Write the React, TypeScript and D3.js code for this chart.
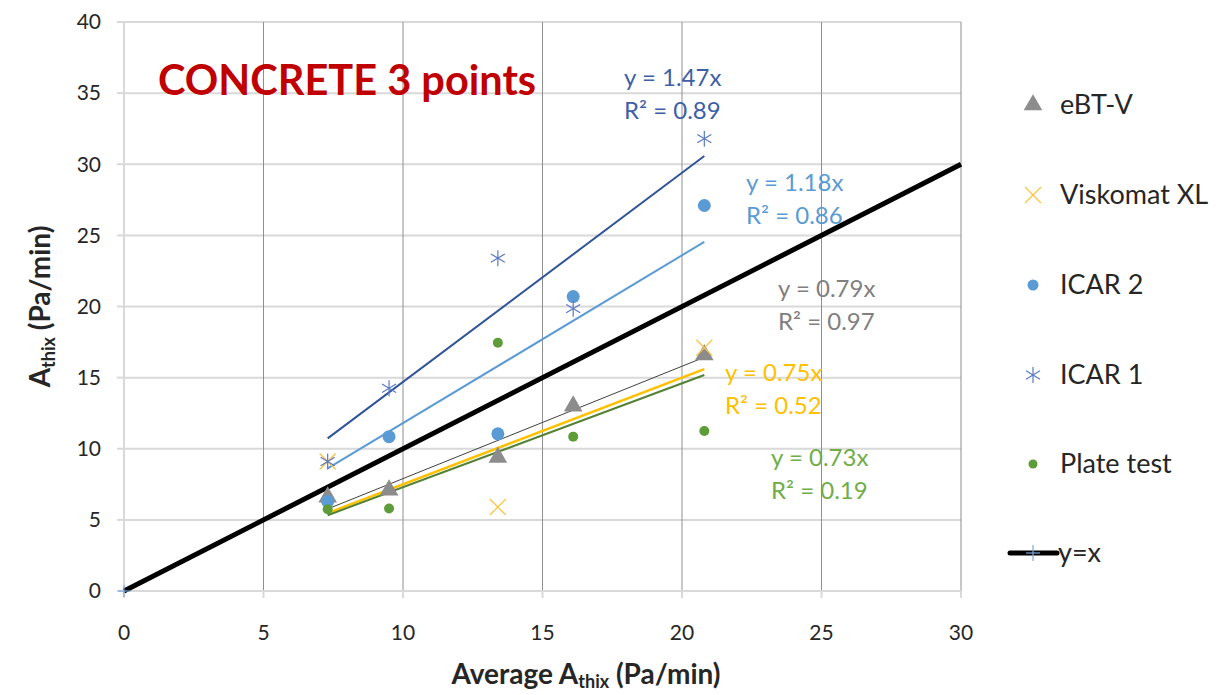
import React from "react";
import * as d3 from "d3";

const avgX = [7.3, 9.5, 13.4, 16.1, 20.8];
const ebtV = [6.6, 7.1, 9.4, 13.0, 16.6];
const viskX = [7.3, 13.4, 20.8];
const viskY = [9.1, 5.9, 17.1];
const icar2 = [6.3, 10.85, 11.05, 20.7, 27.1];
const icar1 = [9.1, 14.25, 23.4, 19.85, 31.8];
const plate = [5.75, 5.8, 17.45, 10.85, 11.25];
const identityLine = [0, 30];

const xTicks = [0, 5, 10, 15, 20, 25, 30];
const yTicks = [0, 5, 10, 15, 20, 25, 30, 35, 40];

const trendSlopes = { ebt: 0.79, visk: 0.75, icar2: 1.18, icar1: 1.47, plate: 0.73 };
const trendLabels = {
  icar1: ["y = 1.47x", "R² = 0.89"],
  icar2: ["y = 1.18x", "R² = 0.86"],
  ebt: ["y = 0.79x", "R² = 0.97"],
  visk: ["y = 0.75x", "R² = 0.52"],
  plate: ["y = 0.73x", "R² = 0.19"],
};
const legendNames = ["eBT-V", "Viskomat XL", "ICAR 2", "ICAR 1", "Plate test", "y=x"];

const FONT = "Lato, 'Open Sans', sans-serif";

const C = {
  ebt: "#8c8c8c",
  ebtLine: "#404040",
  ebtText: "#808080",
  visk: "#f7c548",
  viskLine: "#ffc000",
  icar2: "#5b9bd5",
  icar1Mark: "#5a78c4",
  icar1Line: "#2f5597",
  icar1Text: "#3e5fa6",
  plate: "#5e9c3a",
  plateLine: "#548235",
  plateText: "#70ad47",
};

export default function App() {
  const x = d3.scaleLinear().domain([0, 30]).range([124, 961]);
  const y = d3.scaleLinear().domain([0, 40]).range([591, 22]);
  const tri = d3.symbol().type(d3.symbolTriangle).size(150)();

  const Tri = ({ cx, cy }: { cx: number; cy: number }) => (
    <path d={tri as string} transform={`translate(${cx},${cy})`} fill={C.ebt} />
  );
  const Cross = ({ cx, cy }: { cx: number; cy: number }) => {
    const s = 8;
    return (
      <g stroke={C.visk} strokeWidth={1.3}>
        <line x1={cx - s} y1={cy - s} x2={cx + s} y2={cy + s} />
        <line x1={cx - s} y1={cy + s} x2={cx + s} y2={cy - s} />
      </g>
    );
  };
  const Star = ({ cx, cy }: { cx: number; cy: number }) => {
    const s = 7;
    return (
      <g stroke={C.icar1Mark} strokeWidth={1.2}>
        <line x1={cx} y1={cy - s - 1} x2={cx} y2={cy + s + 1} />
        <line x1={cx - s} y1={cy - s * 0.6} x2={cx + s} y2={cy + s * 0.6} />
        <line x1={cx - s} y1={cy + s * 0.6} x2={cx + s} y2={cy - s * 0.6} />
      </g>
    );
  };

  const x0 = avgX[0];
  const x1 = avgX[avgX.length - 1];
  const trend = (k: number, color: string, w: number) => (
    <line x1={x(x0)} y1={y(k * x0)} x2={x(x1)} y2={y(k * x1)} stroke={color} strokeWidth={w} />
  );

  const label = (lines: string[], lx: number, ly: number, color: string) => (
    <text x={lx} y={ly} fill={color} fontSize={24} fontFamily={FONT}>
      <tspan x={lx} y={ly}>{lines[0]}</tspan>
      <tspan x={lx} y={ly + 33}>{lines[1]}</tspan>
    </text>
  );

  const legendY = [105, 195, 285, 375, 464, 553];
  const lgX = 1033;

  return (
    <svg width={1221} height={695} style={{ position: "absolute", left: 0, top: 0, background: "#fff" }}>
      {/* horizontal gridlines */}
      {yTicks.filter((t) => t > 0).map((t) => (
        <line key={"h" + t} x1={x(0)} x2={x(30)} y1={y(t)} y2={y(t)} stroke="#d9d9d9" strokeWidth={2} />
      ))}
      {/* vertical gridlines */}
      {xTicks.filter((t) => t > 0).map((t) => (
        <line key={"v" + t} x1={x(t)} x2={x(t)} y1={y(40)} y2={y(0)} stroke="#8f8f8f" strokeWidth={1} />
      ))}
      {/* axes */}
      <line x1={x(0)} x2={x(0)} y1={y(40)} y2={y(0)} stroke="#d9d9d9" strokeWidth={2} />
      <line x1={x(0)} x2={x(30)} y1={y(0)} y2={y(0)} stroke="#d9d9d9" strokeWidth={2} />
      {yTicks.map((t) => (
        <line key={"yt" + t} x1={x(0) - 7} x2={x(0)} y1={y(t)} y2={y(t)} stroke="#d9d9d9" strokeWidth={2} />
      ))}
      {xTicks.map((t) => (
        <line key={"xt" + t} x1={x(t)} x2={x(t)} y1={y(0)} y2={y(0) + 7} stroke="#d9d9d9" strokeWidth={2} />
      ))}
      {yTicks.map((t) => (
        <text key={"yl" + t} x={101} y={y(t)} dy="0.35em" textAnchor="end" fontSize={21} fontFamily={FONT} fill="#262626">
          {t}
        </text>
      ))}
      {xTicks.map((t) => (
        <text key={"xl" + t} x={x(t)} y={640} textAnchor="middle" fontSize={21} fontFamily={FONT} fill="#262626">
          {t}
        </text>
      ))}

      {/* axis titles */}
      <text x={586} y={684} textAnchor="middle" fontSize={28} fontWeight="bold" fontFamily={FONT} fill="#262626">
        Average A<tspan fontSize={18} dy={4}>thix</tspan>
        <tspan dy={-4}> (Pa/min)</tspan>
      </text>
      <text transform={`translate(50,${(y(0) + y(40)) / 2}) rotate(-90)`} textAnchor="middle" fontSize={28} fontWeight="bold" fontFamily={FONT} fill="#262626">
        A<tspan fontSize={18} dy={5}>thix</tspan>
        <tspan dy={-5}> (Pa/min)</tspan>
      </text>

      {/* title */}
      <text x={158} y={95} fontSize={41.5} fontWeight="bold" fontFamily={FONT} fill="#c00000">
        CONCRETE 3 points
      </text>

      {/* y = x */}
      <line x1={x(identityLine[0])} y1={y(identityLine[0])} x2={x(identityLine[1])} y2={y(identityLine[1])} stroke="#000" strokeWidth={5} />
      <g stroke="#7fa7db" strokeWidth={1.2}>
        <line x1={x(0) - 6} x2={x(0) + 6} y1={y(0)} y2={y(0)} />
        <line x1={x(0)} x2={x(0)} y1={y(0) - 6} y2={y(0) + 6} />
      </g>

      {/* trendlines */}
      {trend(trendSlopes.icar1, C.icar1Line, 2)}
      {trend(trendSlopes.icar2, C.icar2, 2)}
      {trend(trendSlopes.ebt, C.ebtLine, 1)}
      {trend(trendSlopes.visk, C.viskLine, 2.5)}
      {trend(trendSlopes.plate, C.plateLine, 2)}

      {/* markers */}
      {avgX.map((v, i) => <Tri key={"e" + i} cx={x(v)} cy={y(ebtV[i])} />)}
      {viskX.map((v, i) => <Cross key={"v" + i} cx={x(v)} cy={y(viskY[i])} />)}
      {avgX.map((v, i) => <circle key={"c2" + i} cx={x(v)} cy={y(icar2[i])} r={6.5} fill={C.icar2} />)}
      {avgX.map((v, i) => <Star key={"s" + i} cx={x(v)} cy={y(icar1[i])} />)}
      {avgX.map((v, i) => <circle key={"p" + i} cx={x(v)} cy={y(plate[i])} r={5} fill={C.plate} />)}

      {/* trend labels */}
      {label(trendLabels.icar1, 624, 86, C.icar1Text)}
      {label(trendLabels.icar2, 746, 191, C.icar2)}
      {label(trendLabels.ebt, 778, 297, C.ebtText)}
      {label(trendLabels.visk, 725, 381, C.viskLine)}
      {label(trendLabels.plate, 771, 466, C.plateText)}

      {/* legend */}
      <Tri cx={lgX} cy={legendY[0]} />
      <Cross cx={lgX} cy={legendY[1]} />
      <circle cx={lgX} cy={legendY[2]} r={5.5} fill={C.icar2} />
      <Star cx={lgX} cy={legendY[3]} />
      <circle cx={lgX} cy={legendY[4]} r={4.5} fill={C.plate} />
      <line x1={1010} x2={1057} y1={legendY[5]} y2={legendY[5]} stroke="#000" strokeWidth={5} strokeLinecap="round" />
      <g stroke="#7fa7db" strokeWidth={1.2}>
        <line x1={lgX - 7} x2={lgX + 7} y1={legendY[5]} y2={legendY[5]} />
        <line x1={lgX} x2={lgX} y1={legendY[5] - 8} y2={legendY[5] + 8} />
      </g>
      {legendNames.map((n, i) => (
        <text key={"lg" + n} x={i === 5 ? 1058 : 1060} y={legendY[i]} dy="0.35em" fontSize={27} fontFamily={FONT} fill="#262626">
          {n}
        </text>
      ))}
    </svg>
  );
}
